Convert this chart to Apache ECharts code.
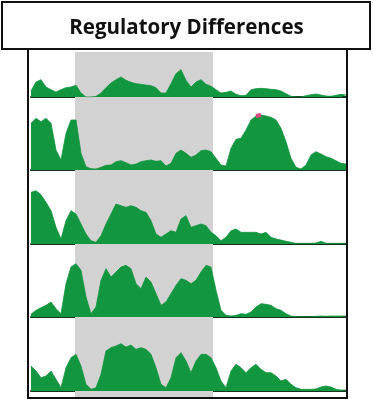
<!DOCTYPE html>
<html>
<head>
<meta charset="utf-8">
<script src="https://cdn.jsdelivr.net/npm/echarts@6/dist/echarts.min.js"></script>
<style>
  html, body { margin: 0; padding: 0; background: #fff; }
  #main { width: 373px; height: 404px; }
</style>
</head>
<body>
<div id="main"></div>
<script>
var chartDom = document.getElementById('main');
var myChart = echarts.init(chartDom);
var option;

var titleText = 'Regulatory Differences';

// coverage, 64 evenly spaced bins per track
var track1 = [18, 45, 52, 30, 22, 15, 22, 28, 30, 35, 12, 0, 0, 2, 12, 28, 42, 52, 60, 50,
  44, 40, 38, 36, 34, 28, 12, 12, 40, 70, 82, 50, 30, 45, 52, 38, 32, 22, 12, 14,
  18, 8, 4, 5, 22, 25, 26, 25, 23, 22, 18, 10, 2, 0, 0, 4, 7, 9, 6, 3,
  2, 5, 8, 6];
var track2 = [140, 155, 145, 155, 140, 60, 30, 110, 150, 150, 50, 10, 4, 3, 8, 14, 15, 25, 28, 22,
  15, 18, 25, 28, 30, 26, 28, 12, 20, 50, 60, 50, 38, 45, 58, 60, 55, 35, 15, 12,
  65, 92, 95, 120, 150, 162, 165, 162, 158, 150, 125, 85, 35, 8, 3, 15, 45, 55, 48, 40,
  35, 28, 20, 18];
var track3 = [155, 160, 148, 125, 100, 50, 15, 70, 100, 90, 60, 30, 10, 5, 25, 60, 90, 120, 115, 110,
  115, 110, 100, 95, 70, 30, 20, 30, 40, 35, 75, 85, 50, 55, 60, 55, 35, 25, 10, 20,
  40, 45, 35, 35, 35, 35, 30, 35, 20, 15, 12, 8, 5, 2, 2, 2, 2, 3, 8, 2,
  2, 2, 2, 2];
var track4 = [8, 20, 28, 35, 45, 25, 10, 100, 150, 160, 140, 60, 10, 30, 110, 145, 120, 135, 150, 155,
  145, 100, 85, 120, 105, 70, 35, 45, 70, 95, 115, 110, 100, 110, 135, 155, 150, 80, 20, 5,
  3, 5, 10, 8, 15, 30, 40, 38, 35, 25, 20, 10, 3, 1, 1, 1, 1, 2, 3, 2,
  3, 3, 3, 3];
var track5 = [75, 60, 40, 45, 60, 35, 10, 70, 100, 110, 75, 20, 5, 10, 50, 120, 130, 135, 142, 132,
  138, 125, 130, 125, 110, 70, 20, 10, 40, 100, 115, 90, 55, 90, 110, 110, 100, 70, 30, 10,
  60, 80, 70, 55, 70, 80, 65, 55, 55, 45, 30, 35, 20, 10, 5, 5, 5, 6, 12, 15,
  12, 5, 3, 3];
var tracks = [track1, track2, track3, track4, track5];

// saturated bins on track 2
var clipBins = [45, 46];
// highlighted region, in bin units
var regionStart = 8.8;
var regionEnd = 36.4;

var green = '#12963f';
var baselines = [97, 170, 244, 317, 391];
var tops = [52, 97, 170, 244, 317];
var pxUnit = 3;

var grids = [], xAxes = [], yAxes = [], series = [];
tracks.forEach(function (vals, i) {
    var extra = i === 4 ? 6 : 0;
    var h = baselines[i] - tops[i];
    grids.push({ left: 31, right: 27, top: tops[i], height: h + extra });
    xAxes.push({
        type: 'value', gridIndex: i, min: 0, max: vals.length - 1,
        axisLine: { show: true, onZero: true, lineStyle: { color: '#17301f', width: 2 } },
        axisTick: { show: false }, axisLabel: { show: false }, splitLine: { show: false }
    });
    yAxes.push({
        type: 'value', gridIndex: i, min: -extra * pxUnit, max: h * pxUnit,
        show: false, splitLine: { show: false }
    });
    series.push({
        type: 'line', xAxisIndex: i, yAxisIndex: i,
        symbol: 'none', silent: true,
        lineStyle: { color: green, width: 0.8 },
        areaStyle: { color: green, opacity: 1 },
        data: vals.map(function (v, k) { return [k, v]; }),
        markArea: {
            silent: true,
            itemStyle: { color: '#d2d2d2' },
            data: [[{ xAxis: regionStart, yAxis: -extra * pxUnit }, { xAxis: regionEnd, yAxis: h * pxUnit }]]
        },
        z: 2
    });
});

series.push({
    type: 'line', xAxisIndex: 1, yAxisIndex: 1, symbol: 'none', silent: true,
    lineStyle: { color: '#e2457f', width: 4 },
    data: clipBins.map(function (k) { return [k, track2[k]]; }),
    z: 3
});

option = {
    animation: false,
    backgroundColor: '#fff',
    title: {
        text: titleText,
        left: 'center',
        top: 13,
        textStyle: { fontFamily: 'Open Sans', fontWeight: 'bold', fontSize: 20.5, color: '#111' }
    },
    graphic: [
        { type: 'rect', shape: { x: 2, y: 2, width: 368, height: 47 }, style: { fill: 'none', stroke: '#111', lineWidth: 2 } },
        { type: 'rect', shape: { x: 28, y: 49, width: 319, height: 349 }, style: { fill: 'none', stroke: '#111', lineWidth: 2 }, z: 10 }
    ],
    grid: grids,
    xAxis: xAxes,
    yAxis: yAxes,
    series: series
};

option && myChart.setOption(option);
</script>
</body>
</html>
